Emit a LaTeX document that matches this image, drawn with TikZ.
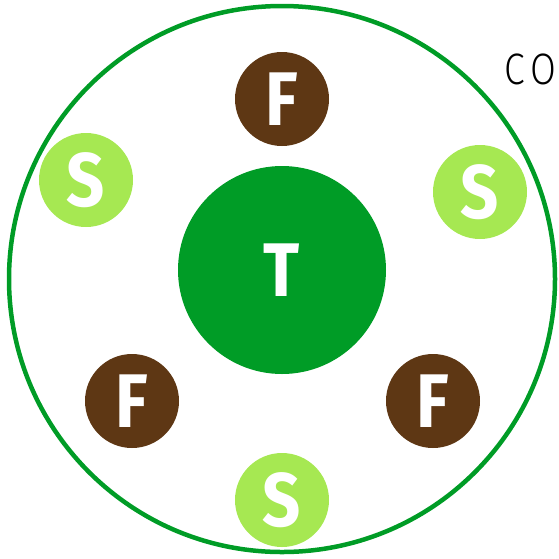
\documentclass[tikz,border=0pt]{standalone}
\usepackage{fontspec}
\setsansfont{Fira Sans}
\newfontfamily\markfont[FakeStretch=0.88]{Fira Sans}
\IfFontExistsTF{Fira Sans Light}
    {\newfontfamily\titlefont[FakeStretch=0.85]{Fira Sans Light}}
    {\newfontfamily\titlefont[FakeStretch=0.85]{Fira Sans}}
\usetikzlibrary{positioning}
\definecolor{ringgreen}{RGB}{0, 156, 38}
\definecolor{soilbrown}{RGB}{94, 55, 20}
\definecolor{leafgreen}{RGB}{166, 232, 82}

\tikzset{
    member/.style={circle, inner sep=0pt, minimum size=94pt, text=white,
        font=\markfont\bfseries\fontsize{76}{76}\selectfont},
    fnode/.style={member, fill=soilbrown},
    snode/.style={member, fill=leafgreen}
}

\begin{document}
\begin{tikzpicture}[x=1pt, y=-1pt]
    \useasboundingbox (0, 0) rectangle (559, 558);

    % outer ring and the centre
    \node[circle, draw=ringgreen, line width=4.5pt, minimum size=546pt] (ring) at (282, 279) {};
    \node[member, fill=ringgreen, minimum size=208pt] (core) at (282, 270) {T};

    % members round the centre
    \node[fnode] (ftop) at (282, 99) {F};
    \node[fnode] (fleft) at (132, 401) {F};
    \node[fnode] (fright) at (433, 401) {F};
    \node[snode] (sleft) at (86, 180) {S};
    \node[snode] (sright) at (480, 192) {S};
    \node[snode] (sbottom) at (282, 500) {S};

    % label at the right edge, cut off by the page
    \node[anchor=base west, inner sep=0pt, font=\titlefont\fontsize{44}{44}\selectfont] (title) at (504, 84) {C\kern6ptO};
\end{tikzpicture}
\end{document}
